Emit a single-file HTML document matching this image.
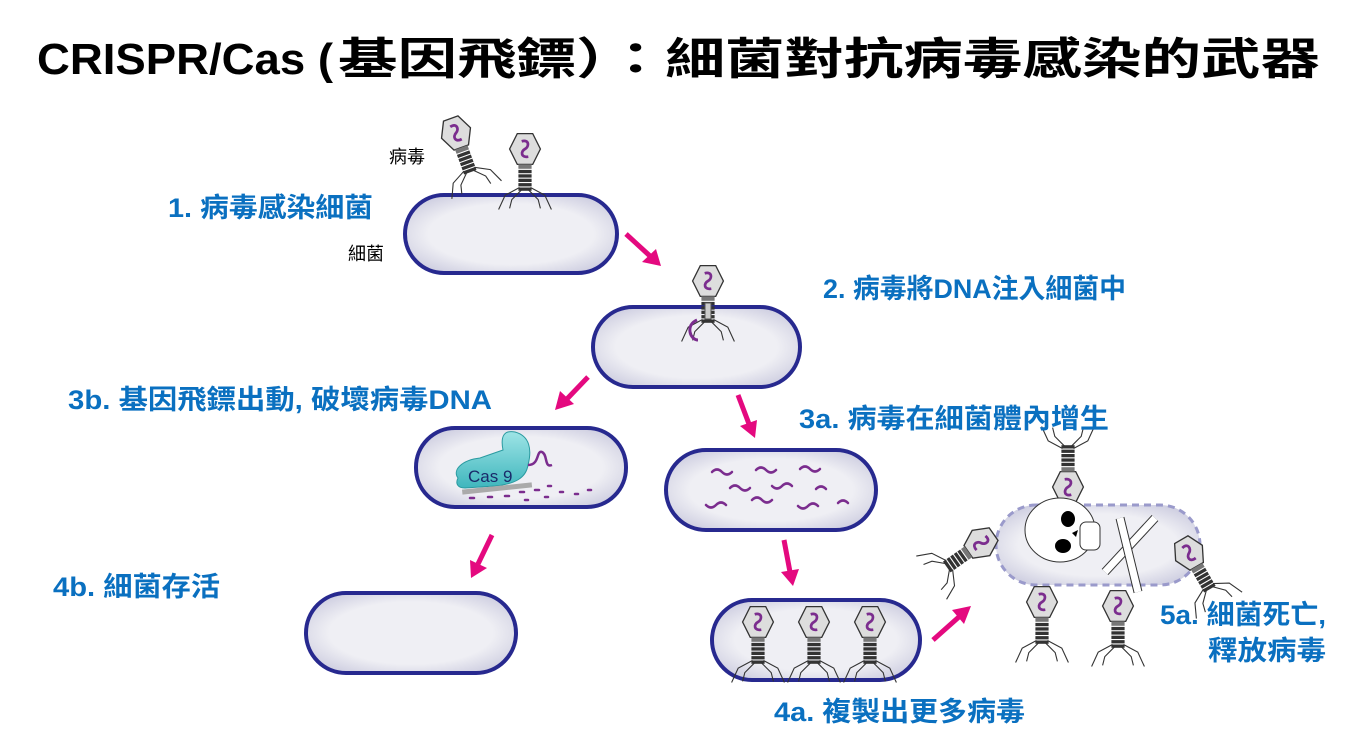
<!DOCTYPE html>
<html><head><meta charset="utf-8"><style>
body{margin:0;background:#fff;}
svg{display:block;font-family:"Liberation Sans","Noto Sans CJK TC",sans-serif;}
.l{fill:#0a70c0;font-size:27px;font-weight:bold;}
</style></head><body>
<svg width="1358" height="746" viewBox="0 0 1358 746">
<defs>
<radialGradient id="cg" cx="50%" cy="50%" r="60%">
<stop offset="0.65" stop-color="#efeff4"/><stop offset="1" stop-color="#cdcde0"/></radialGradient>
<linearGradient id="cas" x1="0" y1="0" x2="0" y2="1"><stop offset="0" stop-color="#9ee4e6"/><stop offset="1" stop-color="#3fb6bd"/></linearGradient>
<g id="ph">
<polygon points="-7,-14 7,-14 14,0 7,14 -7,14 -14,0" fill="#ddd" stroke="#333" stroke-width="1.2"/>
<path d="M-3,-7 C4,-9 4,-2 0,0 C-4,2 -4,8 3,7" fill="none" stroke="#7b2d8e" stroke-width="2.5"/>
<rect x="-6" y="14" width="12" height="4" fill="#777"/>
<g fill="#333"><rect x="-6" y="19" width="12" height="3"/><rect x="-6" y="23" width="12" height="3"/><rect x="-6" y="27" width="12" height="3"/><rect x="-6" y="31" width="12" height="3"/><rect x="-6" y="35" width="12" height="3"/></g>
<path d="M-5,35 L-18,42 L-24,55 M-3,37 L-12,46 L-14,54 M5,35 L18,42 L24,55 M3,37 L12,46 L14,54" fill="none" stroke="#333" stroke-width="1"/>
</g>
</defs>
<text x="37" y="74" font-size="44" font-weight="bold" fill="#000" textLength="296" lengthAdjust="spacingAndGlyphs">CRISPR/Cas (</text>
<text x="338" y="74" font-size="44" font-weight="bold" fill="#000" textLength="982" lengthAdjust="spacingAndGlyphs">基因飛鏢）：細菌對抗病毒感染的武器</text>

<g stroke="#27298f" stroke-width="4" fill="url(#cg)">
<rect x="405" y="195" width="212" height="78" rx="39"/>
<rect x="593" y="307" width="207" height="80" rx="40"/>
<rect x="416" y="428" width="210" height="79" rx="39"/>
<rect x="666" y="450" width="210" height="80" rx="40"/>
<rect x="306" y="593" width="210" height="80" rx="40"/>
<rect x="712" y="600" width="208" height="80" rx="40"/>
</g>
<rect x="996" y="505" width="204" height="80" rx="40" fill="url(#cg)" stroke="#9a9acb" stroke-width="3" stroke-dasharray="7,5"/>

<g transform="translate(525,149) scale(1.1)"><use href="#ph"/></g>
<g transform="translate(456,133) rotate(-20) scale(1.1)"><use href="#ph"/></g>
<g transform="translate(708,281) scale(1.1)"><use href="#ph"/></g>
<rect x="705" y="303" width="6" height="16" fill="#ccc" stroke="#555"/>
<path d="M697,320 C685,325 690,340 698,340" fill="none" stroke="#7b2d8e" stroke-width="3"/>
<g transform="translate(758,622) scale(1.1)"><use href="#ph"/></g>
<g transform="translate(814,622) scale(1.1)"><use href="#ph"/></g>
<g transform="translate(870,622) scale(1.1)"><use href="#ph"/></g>
<g transform="translate(1068,487) rotate(180) scale(1.1)"><use href="#ph"/></g>
<g transform="translate(981,543) rotate(55) scale(1.1)"><use href="#ph"/></g>
<g transform="translate(1189,553) rotate(-30) scale(1.1)"><use href="#ph"/></g>
<g transform="translate(1042,602) scale(1.1)"><use href="#ph"/></g>
<g transform="translate(1118,606) scale(1.1)"><use href="#ph"/></g>

<ellipse cx="1060" cy="530" rx="35" ry="32" fill="#fff" stroke="#333"/>
<rect x="1080" y="522" width="20" height="28" rx="6" fill="#fff" stroke="#333"/>
<ellipse cx="1068" cy="519" rx="7" ry="8" fill="#000"/><ellipse cx="1063" cy="546" rx="8" ry="7" fill="#000"/><path d="M1072,533 l6,-3 l-2,7z" fill="#000"/>
<path d="M1105,572 L1155,518" stroke-width="9" stroke="#333"/><path d="M1105,572 L1155,518" stroke-width="7" stroke="#fff"/>
<path d="M1120,518 L1138,592" stroke-width="9" stroke="#333"/><path d="M1120,518 L1138,592" stroke-width="7" stroke="#fff"/>

<path d="M458,478 C452,470 462,460 480,458 L503,450 C500,435 505,430 515,432 C530,436 532,450 528,465 C526,478 515,484 495,486 L465,488 C458,488 455,484 458,478Z" fill="url(#cas)" stroke="#2a9aa0"/>
<text x="468" y="482" font-size="17" fill="#1a2a6a">Cas 9</text>
<rect x="462" y="486" width="70" height="5" fill="#aaa" transform="rotate(-6 497 488)"/>
<path d="M528,465 C540,465 536,450 542,452 C548,455 544,468 552,465" fill="none" stroke="#7b2d8e" stroke-width="2.5"/>
<g stroke="#7b2d8e" stroke-width="2.5" stroke-linecap="round">
<path d="M470,498h4M488,497h4M505,496h4M520,492h4M535,490h4M548,486h3M560,492h3M575,494h3M588,490h3M545,497h3M525,500h3"/>
</g>
<g fill="none" stroke="#7b2d8e" stroke-width="2.5" stroke-linecap="round">
<path d="M712,472 q5,-5 10,0 t10,0"/><path d="M756,470 q5,-5 10,0 t10,0"/><path d="M800,469 q5,-5 10,0 t10,0"/>
<path d="M730,488 q5,-5 10,0 t10,0"/><path d="M772,486 q5,5 10,0 t10,0"/><path d="M816,489 q5,-5 10,0"/>
<path d="M706,505 q5,5 10,0 t10,0"/><path d="M752,500 q5,-5 10,0 t10,0"/><path d="M798,506 q5,5 10,0 t10,0"/><path d="M838,503 q5,-5 10,0"/>
</g>

<g stroke="#e4097f" stroke-width="5" fill="#e4097f">
<line x1="626" y1="234" x2="650" y2="256"/><polygon points="661,266 642,262 656,249" stroke="none"/>
<line x1="588" y1="377" x2="566" y2="400"/><polygon points="555,410 560,391 574,404" stroke="none"/>
<line x1="738" y1="395" x2="749" y2="424"/><polygon points="755,438 740,426 757,420" stroke="none"/>
<line x1="492" y1="535" x2="478" y2="564"/><polygon points="471,578 470,560 487,568" stroke="none"/>
<line x1="784" y1="540" x2="790" y2="572"/><polygon points="793,586 781,572 799,569" stroke="none"/>
<line x1="933" y1="640" x2="960" y2="616"/><polygon points="971,606 964,624 952,610" stroke="none"/>
</g>

<text x="389" y="163" font-size="18">病毒</text>
<text x="348" y="260" font-size="18">細菌</text>
<text class="l" x="168" y="217" textLength="205" lengthAdjust="spacingAndGlyphs">1. 病毒感染細菌</text>
<text class="l" x="823" y="298" textLength="303" lengthAdjust="spacingAndGlyphs">2. 病毒將DNA注入細菌中</text>
<text class="l" x="68" y="409" textLength="424" lengthAdjust="spacingAndGlyphs">3b. 基因飛鏢出動, 破壞病毒DNA</text>
<text class="l" x="799" y="428" textLength="310" lengthAdjust="spacingAndGlyphs">3a. 病毒在細菌體內增生</text>
<text class="l" x="53" y="596" textLength="167" lengthAdjust="spacingAndGlyphs">4b. 細菌存活</text>
<text class="l" x="774" y="721" textLength="251" lengthAdjust="spacingAndGlyphs">4a. 複製出更多病毒</text>
<text class="l" x="1160" y="624" textLength="166" lengthAdjust="spacingAndGlyphs">5a. 細菌死亡,</text>
<text class="l" x="1208" y="660" textLength="118" lengthAdjust="spacingAndGlyphs">釋放病毒</text>
</svg>
</body></html>
